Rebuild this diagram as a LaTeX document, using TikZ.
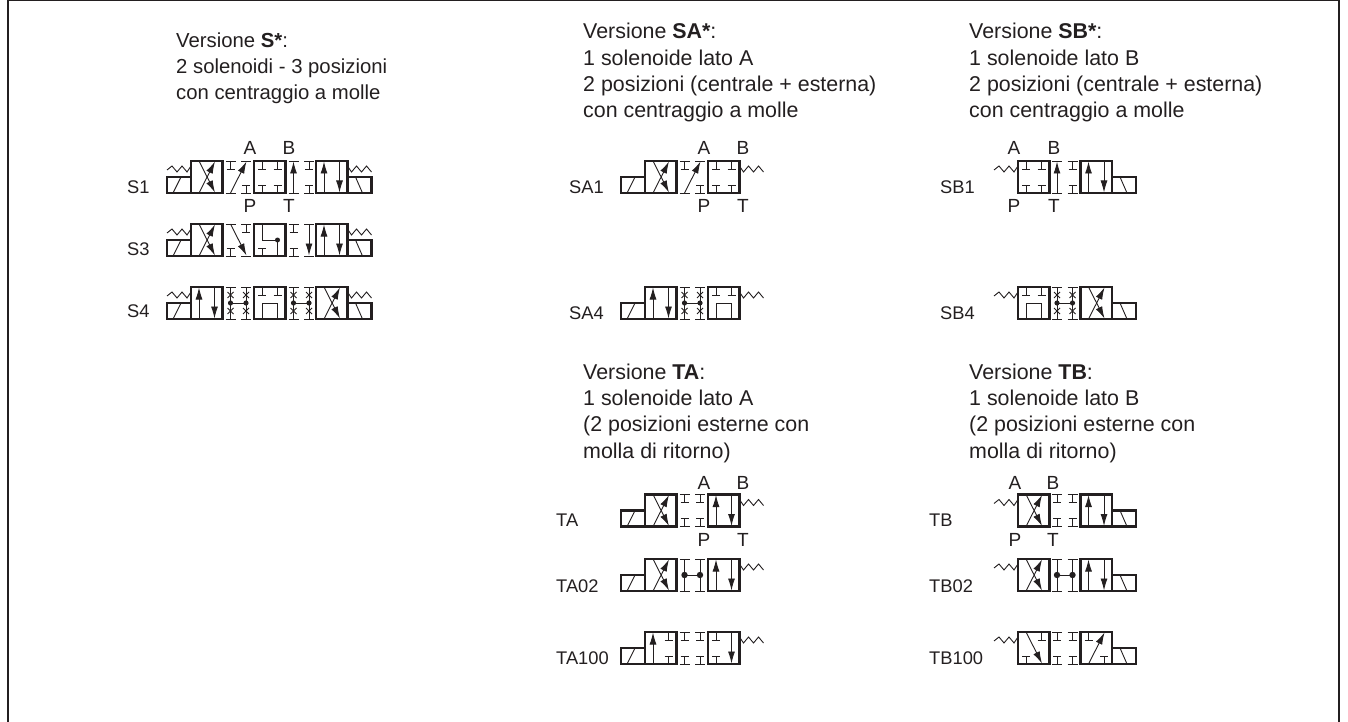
\documentclass[tikz,border=0pt]{standalone}
\usepackage{fontspec}
\setmainfont{Liberation Sans}
\usetikzlibrary{arrows.meta}
\definecolor{ink}{HTML}{231F20}
\tikzset{
  wall/.style={ink,line width=2.4pt,line join=miter},
  port/.style={ink,line width=0.9pt},
  flow/.style={ink,line width=0.9pt,-{Latex[length=12pt,width=7pt]}},
  caption/.style={anchor=north west,align=left,inner sep=0pt,text=ink,font=\fontsize{21.4}{26.3}\selectfont},
  tag/.style={anchor=west,inner sep=0pt,text=ink,font=\fontsize{18.3}{20}\selectfont},
  letter/.style={inner sep=0pt,text=ink,font=\fontsize{19}{20}\selectfont},
  pics/frm/.style={code={\draw[wall] (0,0) rectangle (31.5,32);}},
  pics/stub/.style={code={
    \draw[port] (3,0)--(13,0) (18.5,0)--(28.5,0) (3,32)--(13,32) (18.5,32)--(28.5,32);}},
  pics/tTL/.style={code={\draw[port] (8,0)--(8,8) (4,8)--(12,8);}},
  pics/tTR/.style={code={\draw[port] (23.5,0)--(23.5,8) (19.5,8)--(27.5,8);}},
  pics/tBL/.style={code={\draw[port] (8,32)--(8,24) (4,24)--(12,24);}},
  pics/tBR/.style={code={\draw[port] (23.5,32)--(23.5,24) (19.5,24)--(27.5,24);}},
  pics/upL/.style={code={\draw[flow] (8,32)--(8,0.5);}},
  pics/dnR/.style={code={\draw[flow] (23.5,0)--(23.5,31.5);}},
  pics/dgU/.style={code={\draw[flow] (8,32)--(24,0.5);}},
  pics/dgD/.style={code={\draw[flow] (8,0)--(24,31.5);}},
  pics/tees/.style={code={\pic {tTL}; \pic {tTR}; \pic {tBL}; \pic {tBR};}},
  % valve positions
  pics/cross/.style={code={\pic {frm}; \pic {dgU}; \pic {dgD};}},
  pics/para/.style={code={\pic {frm}; \pic {upL}; \pic {dnR};}},
  pics/shut/.style={code={\pic {frm}; \pic {tees};}},
  pics/arch/.style={code={\pic {frm}; \pic {tTL}; \pic {tTR};
    \draw[port] (8,32)--(8,16)--(23.5,16)--(23.5,32);}},
  pics/hook/.style={code={\pic {frm}; \pic {tBL};
    \draw[port] (8,0)--(8,16)--(23.5,16)--(23.5,32);
    \fill[ink] (23.5,16) circle (2.5);}},
  pics/upbox/.style={code={\pic {frm}; \pic {upL}; \pic {tTR}; \pic {tBR};}},
  pics/dnbox/.style={code={\pic {frm}; \pic {dnR}; \pic {tTL}; \pic {tBL};}},
  pics/dgDbox/.style={code={\pic {frm}; \pic {dgD}; \pic {tTR}; \pic {tBL};}},
  pics/dgUbox/.style={code={\pic {frm}; \pic {dgU}; \pic {tTL}; \pic {tBR};}},
  % transitions
  pics/gapT/.style={code={\pic {stub}; \pic {tees};}},
  pics/gapU/.style={code={\pic {stub}; \pic {dgU}; \pic {tTL}; \pic {tBR};}},
  pics/gapD/.style={code={\pic {stub}; \pic {dgD}; \pic {tTR}; \pic {tBL};}},
  pics/gapA/.style={code={\pic {stub}; \pic {upL}; \pic {tTR}; \pic {tBR};}},
  pics/gapZ/.style={code={\pic {stub}; \pic {dnR}; \pic {tTL}; \pic {tBL};}},
  pics/gapL/.style={code={\pic {stub};
    \draw[port] (8,0)--(8,32) (23.5,0)--(23.5,32) (8,16)--(23.5,16);
    \fill[ink] (8,16) circle (3.2) (23.5,16) circle (3.2);}},
  pics/gapX/.style={code={\pic {stub};
    \draw[port] (8,0)--(8,32) (23.5,0)--(23.5,32) (8,16)--(23.5,16);
    \draw[port] (5,5)--(11,11) (5,11)--(11,5) (5,21)--(11,27) (5,27)--(11,21)
      (20.5,5)--(26.5,11) (20.5,11)--(26.5,5) (20.5,21)--(26.5,27) (20.5,27)--(26.5,21);
    \fill[ink] (8,16) circle (2.6) (23.5,16) circle (2.6);}},
  % ends
  pics/solL/.style={code={\draw[wall] (-24,16) rectangle (0,32); \draw[port] (-18,32)--(-10,16);}},
  pics/solR/.style={code={\draw[wall] (0,16) rectangle (24,32); \draw[port] (8,16)--(15,32);}},
  pics/sprL/.style={code={\draw[port] (0,5)--(-4,11)--(-9,5)--(-14,11)--(-19,5)--(-24,9);}},
  pics/sprR/.style={code={\draw[port] (0,5)--(4,11)--(9,5)--(14,11)--(19,5)--(24,11);}},
}
\begin{document}
\begin{tikzpicture}[x=1pt,y=-1pt]
  \useasboundingbox (0,0) rectangle (1348,722);
  \draw[ink,line width=1.3pt] (8,723)--(8,0.7)--(1339,0.7)--(1339,723);
  % captions
  \node[caption,font=\fontsize{20.3}{26}\selectfont] (capS) at (176,33) {Versione \textbf{S*}:\\2 solenoidi - 3 posizioni\\con centraggio a molle};
  \node[caption] (capSA) at (583,23) {Versione \textbf{SA*}:\\1 solenoide lato A\\2 posizioni (centrale + esterna)\\con centraggio a molle};
  \node[caption] (capSB) at (969,23) {Versione \textbf{SB*}:\\1 solenoide lato B\\2 posizioni (centrale + esterna)\\con centraggio a molle};
  \node[caption] (capTA) at (583,363.5) {Versione \textbf{TA}:\\1 solenoide lato A\\(2 posizioni esterne con\\molla di ritorno)};
  \node[caption] (capTB) at (969,363.5) {Versione \textbf{TB}:\\1 solenoide lato B\\(2 posizioni esterne con\\molla di ritorno)};
  % code labels
  \foreach \tname/\tx/\ty in {S1/127/187,S3/127/249,S4/127/311,SA1/569/187,SA4/569/313,
      SB1/940/187,SB4/940/313,TA/556/520,TA02/556/586,TA100/556/658,TB/929/520,TB02/929/586,TB100/929/658}
    \node[tag] (lab\tname) at (\tx,\ty) {\tname};
  % port letters
  \foreach \pname/\ptext/\px/\py in {a1/A/250/148,b1/B/289/148,p1/P/250/206,t1/T/289/206,
      a2/A/704/148,b2/B/743/148,p2/P/704/206,t2/T/743/206,
      a3/A/1014/148,b3/B/1054/148,p3/P/1014/206,t3/T/1054/206,
      a4/A/704/483,b4/B/743/483,p4/P/704/540,t4/T/743/540,
      a5/A/1015/483,b5/B/1053/483,p5/P/1015/540,t5/T/1053/540}
    \node[letter] (\pname) at (\px,\py) {\ptext};
  % three position valves
  \foreach \py/\pa/\pb/\pc/\pd/\pe in {161/cross/gapU/shut/gapA/para,224/cross/gapD/hook/gapZ/para,287/para/gapX/arch/gapX/cross}{
    \pic at (191,\py) {solL};
    \pic at (191,\py) {sprL};
    \pic at (191,\py) {\pa};
    \pic at (222.5,\py) {\pb};
    \pic at (254,\py) {\pc};
    \pic at (285.5,\py) {\pd};
    \pic at (316,\py) {\pe};
    \pic at (347.5,\py) {solR};
    \pic at (347.5,\py) {sprR};
  }
  % solenoid on side A
  \foreach \py/\pa/\pb/\pc in {161/cross/gapU/shut,287/para/gapX/arch,494.5/cross/gapT/para,559/cross/gapL/para,632/upbox/gapT/dnbox}{
    \pic at (645,\py) {solL};
    \pic at (645,\py) {\pa};
    \pic at (676.5,\py) {\pb};
    \pic at (708,\py) {\pc};
    \pic at (739.5,\py) {sprR};
  }
  % solenoid on side B
  \foreach \py/\pa/\pb/\pc in {161/shut/gapA/para,287/arch/gapX/cross,494.5/cross/gapT/para,559/cross/gapL/para,632/dgDbox/gapT/dgUbox}{
    \pic at (1018,\py) {sprL};
    \pic at (1018,\py) {\pa};
    \pic at (1049,\py) {\pb};
    \pic at (1080.5,\py) {\pc};
    \pic at (1112,\py) {solR};
  }
\end{tikzpicture}
\end{document}
